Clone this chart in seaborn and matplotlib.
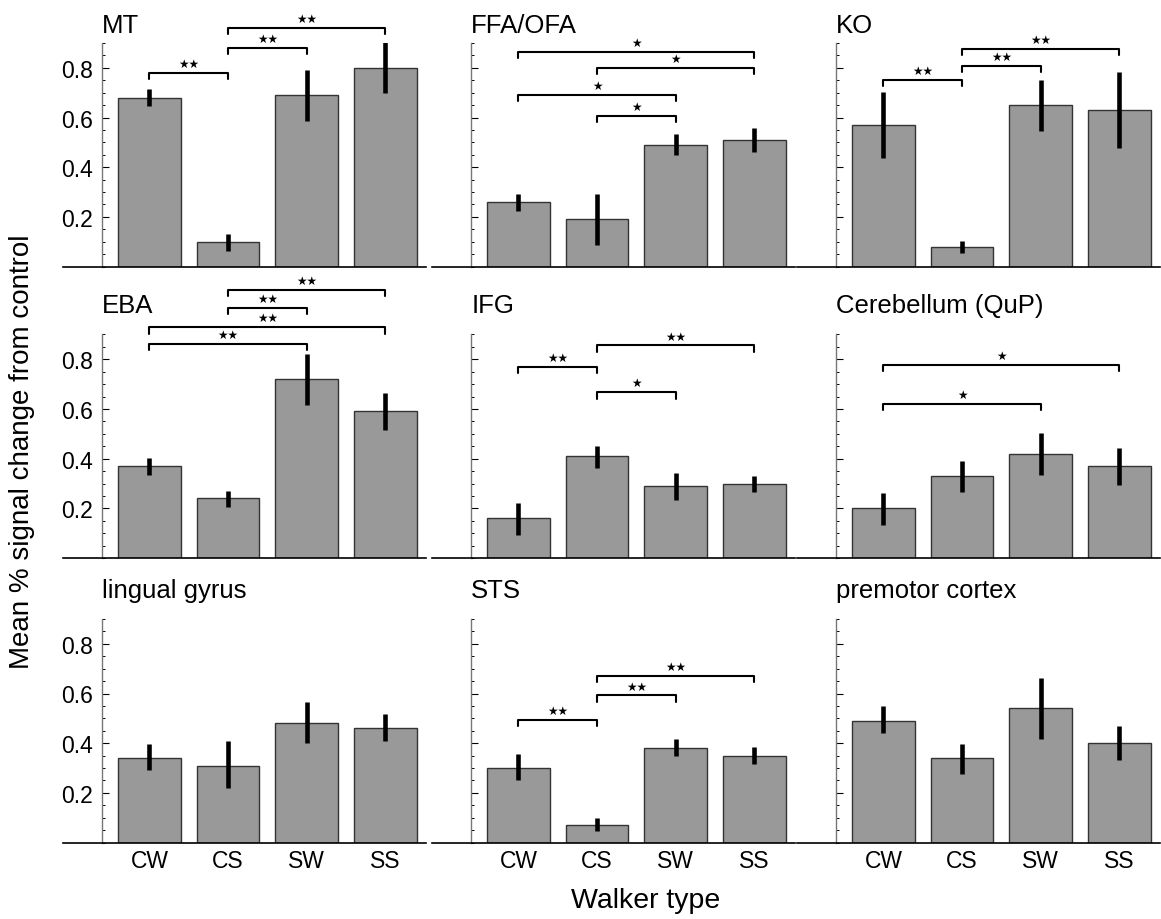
import numpy as np
import pandas as pd
import seaborn as sns
import matplotlib.pyplot as plt
from matplotlib.ticker import FixedLocator, MultipleLocator

walkers = ["CW", "CS", "SW", "SS"]
regions = ["MT", "FFA/OFA", "KO",
           "EBA", "IFG", "Cerebellum (QuP)",
           "lingual gyrus", "STS", "premotor cortex"]

means = [
    [0.68, 0.10, 0.69, 0.80],
    [0.26, 0.19, 0.49, 0.51],
    [0.57, 0.08, 0.65, 0.63],
    [0.37, 0.24, 0.72, 0.59],
    [0.16, 0.41, 0.29, 0.30],
    [0.20, 0.33, 0.42, 0.37],
    [0.34, 0.31, 0.48, 0.46],
    [0.30, 0.07, 0.38, 0.35],
    [0.49, 0.34, 0.54, 0.40],
]
err_lo = [
    [0.646, 0.064, 0.587, 0.697],
    [0.225, 0.085, 0.447, 0.463],
    [0.436, 0.055, 0.546, 0.476],
    [0.334, 0.204, 0.616, 0.514],
    [0.094, 0.362, 0.235, 0.264],
    [0.133, 0.264, 0.334, 0.294],
    [0.290, 0.219, 0.401, 0.408],
    [0.250, 0.048, 0.348, 0.318],
    [0.440, 0.277, 0.416, 0.333],
]
err_hi = [
    [0.713, 0.132, 0.793, 0.903],
    [0.293, 0.293, 0.534, 0.557],
    [0.703, 0.102, 0.753, 0.785],
    [0.401, 0.271, 0.821, 0.663],
    [0.221, 0.452, 0.342, 0.331],
    [0.262, 0.392, 0.502, 0.442],
    [0.397, 0.407, 0.565, 0.517],
    [0.357, 0.097, 0.415, 0.385],
    [0.548, 0.397, 0.663, 0.471],
]
# significance brackets: (from, to, height, stars)
brackets = [
    [(0, 1, 0.780, 2), (1, 2, 0.879, 2), (1, 3, 0.960, 2)],
    [(1, 2, 0.608, 1), (0, 2, 0.691, 1), (1, 3, 0.799, 1), (0, 3, 0.863, 1)],
    [(0, 1, 0.750, 2), (1, 2, 0.807, 2), (1, 3, 0.877, 2)],
    [(0, 2, 0.862, 2), (0, 3, 0.929, 2), (1, 2, 1.007, 2), (1, 3, 1.079, 2)],
    [(1, 2, 0.667, 1), (0, 1, 0.770, 2), (1, 3, 0.856, 2)],
    [(0, 2, 0.620, 1), (0, 3, 0.777, 1)],
    [],
    [(0, 1, 0.494, 2), (1, 2, 0.592, 2), (1, 3, 0.671, 2)],
    [],
]

rows = []
for reg, vals in zip(regions, means):
    for w, v in zip(walkers, vals):
        rows.append({"region": reg, "walker": w, "mean": v})
df = pd.DataFrame(rows)

sns.set_style("white")
plt.rcParams["font.family"] = ["Liberation Sans", "DejaVu Sans"]
plt.rcParams["text.color"] = "black"
plt.rcParams["xtick.color"] = "black"
plt.rcParams["ytick.color"] = "black"
plt.rcParams["ytick.left"] = True

W, H = 1161, 920
fig = plt.figure(figsize=(W / 100, H / 100), dpi=100)

col_left = [63, 432, 797]
row_base = [267.5, 559, 843.5]
title_off = [0.046, 0.09, 0.088]
ax_w, ax_h = 363, 223.5
spine_x = -0.6

for k, reg in enumerate(regions):
    r, c = divmod(k, 3)
    ax = fig.add_axes([col_left[c] / W, 1 - row_base[r] / H, ax_w / W, ax_h / H])
    sns.barplot(data=df[df.region == reg], x="walker", y="mean", order=walkers,
                color="#999999", saturation=1, edgecolor="#333333", linewidth=1,
                width=0.8, errorbar=None, ax=ax)
    xs = np.arange(len(walkers))
    ax.vlines(xs, err_lo[k], err_hi[k], color="black", lw=3.3)

    for i, j, y, n in brackets[k]:
        ax.plot([i, i, j, j], [y - 0.025, y, y, y - 0.025], color="black",
                lw=1.5, clip_on=False)
        ax.text((i + j) / 2, y + 0.038, "\u2605" * n, ha="center", va="center",
                fontsize=8.5, family="DejaVu Sans", clip_on=False)

    ax.set_xlim(-1.1, 3.52)
    ax.set_ylim(0, 0.9)
    ax.set_xlabel("")
    ax.set_ylabel("")
    for s in ["top", "right"]:
        ax.spines[s].set_visible(False)
    ax.spines["left"].set_position(("data", spine_x))
    ax.spines["left"].set_color("#777777")
    ax.spines["left"].set_linewidth(1)
    ax.spines["bottom"].set_color("black")
    ax.spines["bottom"].set_linewidth(1.2)

    ax.yaxis.set_major_locator(FixedLocator([0.2, 0.4, 0.6, 0.8]))
    ax.yaxis.set_minor_locator(MultipleLocator(0.05))
    ax.tick_params(axis="y", which="both", left=True, direction="in")
    ax.tick_params(axis="y", which="major", length=5, width=0.8,
                   pad=7, labelsize=16.5, labelleft=(c == 0))
    ax.tick_params(axis="y", which="minor", length=2.5, width=0.7)
    ax.tick_params(axis="x", length=0, pad=5, labelsize=16.5, labelbottom=(r == 2))

    ax.text(spine_x, 0.9 + title_off[r], reg, ha="left", va="baseline",
            fontsize=18.5, clip_on=False)

fig.text(22 / W, 1 - 452 / H, "Mean % signal change from control", rotation=90,
         ha="center", va="center", fontsize=20)
fig.text(646 / W, 1 - 908 / H, "Walker type", ha="center", va="baseline",
         fontsize=20.5)

fig.savefig("out.png", dpi=100)
